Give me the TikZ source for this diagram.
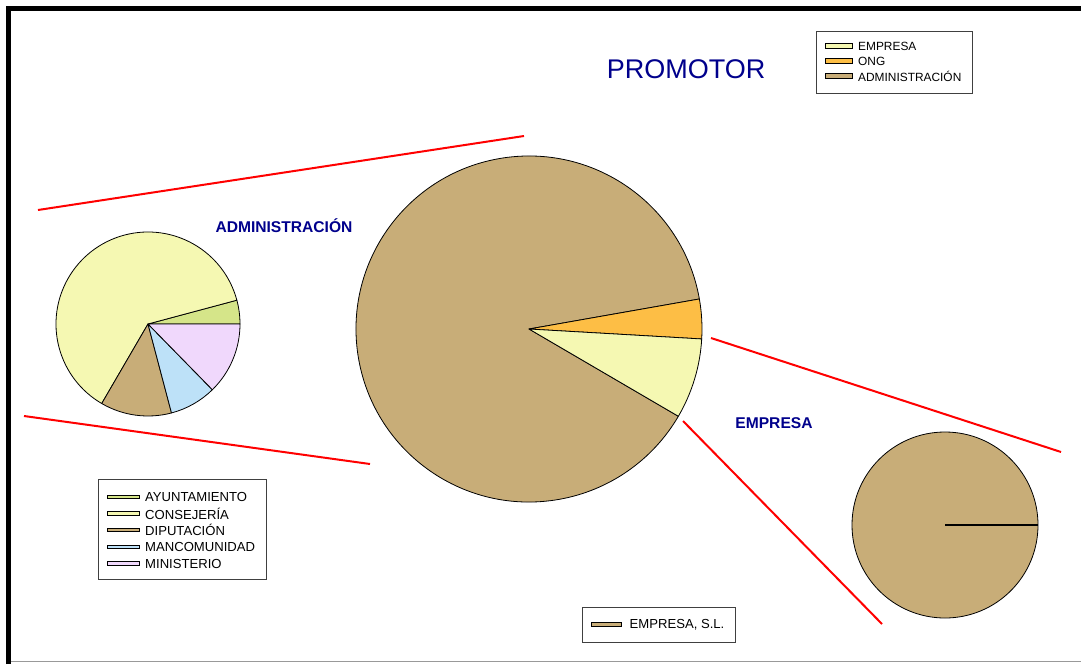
\documentclass[tikz,border=0pt]{standalone}
\usepackage{fontspec}
\setmainfont{Liberation Sans}
\definecolor{tan}{RGB}{200,173,120}
\definecolor{ongc}{RGB}{253,190,69}
\definecolor{paley}{RGB}{245,248,178}
\definecolor{ayun}{RGB}{213,229,137}
\definecolor{manc}{RGB}{189,225,248}
\definecolor{mini}{RGB}{240,216,252}
\definecolor{navy}{RGB}{0,0,140}
\tikzset{
  slice/.style={draw=black, line width=0.8pt, line join=round},
  redline/.style={draw=red, line width=2pt},
  legbox/.style={draw=black!75, line width=0.8pt, fill=white},
  swatch/.style={draw=black, line width=0.8pt},
  legtext/.style={anchor=west, inner sep=0pt, font=\fontsize{11.9}{12}\selectfont},
  legtextb/.style={anchor=west, inner sep=0pt, font=\fontsize{13.1}{14}\selectfont},
  ttl/.style={text=navy, font=\bfseries\fontsize{15.6}{16}\selectfont, inner sep=0pt}
}
\newcommand{\pieslice}[5]{% center, radius, a1, a2, color
  \filldraw[slice, fill=#5] #1 -- ++(#3:#2) arc[start angle=#3, end angle=#4, radius=#2] -- cycle;}
\begin{document}
\begin{tikzpicture}[x=1pt,y=1pt]
\useasboundingbox (0,0) rectangle (1081,-664);
\fill[white] (0,0) rectangle (1081,-664);
% frame
\draw[black, line width=5pt] (8.5,-664) -- (8.5,-8.5) -- (1081,-8.5);
\draw[black!40, line width=1pt] (11,-661.5) -- (1081,-661.5);

% red lines
\draw[redline] (38,-210) -- (524,-136);
\draw[redline] (24,-416) -- (370,-464);
\draw[redline] (711,-338) -- (1061,-452);
\draw[redline] (683,-421) -- (882,-624);

% main pie
\pieslice{(529,-329)}{173}{10}{329.7}{tan}
\pieslice{(529,-329)}{173}{-3.3}{10}{ongc}
\pieslice{(529,-329)}{173}{-30.3}{-3.3}{paley}

% small pie
\pieslice{(148,-324)}{92}{0}{15}{ayun}
\pieslice{(148,-324)}{92}{15}{239.8}{paley}
\pieslice{(148,-324)}{92}{239.8}{284.8}{tan}
\pieslice{(148,-324)}{92}{284.8}{314.4}{manc}
\pieslice{(148,-324)}{92}{314.4}{360}{mini}

% right pie
\filldraw[slice, fill=tan] (945,-525) circle[radius=93];
\draw[black, line width=1.3pt] (945,-525) -- (1038,-525);

% titles
\node[text=navy, font=\fontsize{27}{28}\selectfont, inner sep=0pt] (promotor) at (686,-69.5) {PROMOTOR};
\node[ttl] (tadmin) at (284,-226) {ADMINISTRACIÓN};
\node[ttl] (tempresa) at (774,-423) {EMPRESA};

% legend 1
\draw[legbox] (816,-31) rectangle (972,-93.5);
\draw[swatch, fill=paley] (825.5,-43) rectangle (852,-48);
\draw[swatch, fill=ongc] (825.5,-58) rectangle (852,-63);
\draw[swatch, fill=tan] (825.5,-73) rectangle (852,-78);
\node[legtext] (l1a) at (858,-46.5) {EMPRESA};
\node[legtext] (l1b) at (858,-61.5) {ONG};
\node[legtext] (l1c) at (858,-76.5) {ADMINISTRACIÓN};

% legend 2
\draw[legbox] (98,-479) rectangle (266.5,-579.5);
\draw[swatch, fill=ayun] (107,-495) rectangle (139,-498.5);
\draw[swatch, fill=paley] (107,-511.5) rectangle (139,-515);
\draw[swatch, fill=tan] (107,-528) rectangle (139,-531.5);
\draw[swatch, fill=manc] (107,-545) rectangle (139,-548.5);
\draw[swatch, fill=mini] (107,-561.5) rectangle (139,-565);
\node[legtextb] (l2a) at (145,-497) {AYUNTAMIENTO};
\node[legtextb] (l2b) at (145,-513.5) {CONSEJERÍA};
\node[legtextb] (l2c) at (145,-530) {DIPUTACIÓN};
\node[legtextb] (l2d) at (145,-547) {MANCOMUNIDAD};
\node[legtextb] (l2e) at (145,-563.5) {MINISTERIO};

% legend 3
\draw[legbox] (582.5,-607.5) rectangle (735.5,-642);
\draw[swatch, fill=tan] (591,-622.5) rectangle (621.5,-626.5);
\node[legtextb] (l3a) at (629.5,-625) {EMPRESA, S.L.};
\end{tikzpicture}
\end{document}
